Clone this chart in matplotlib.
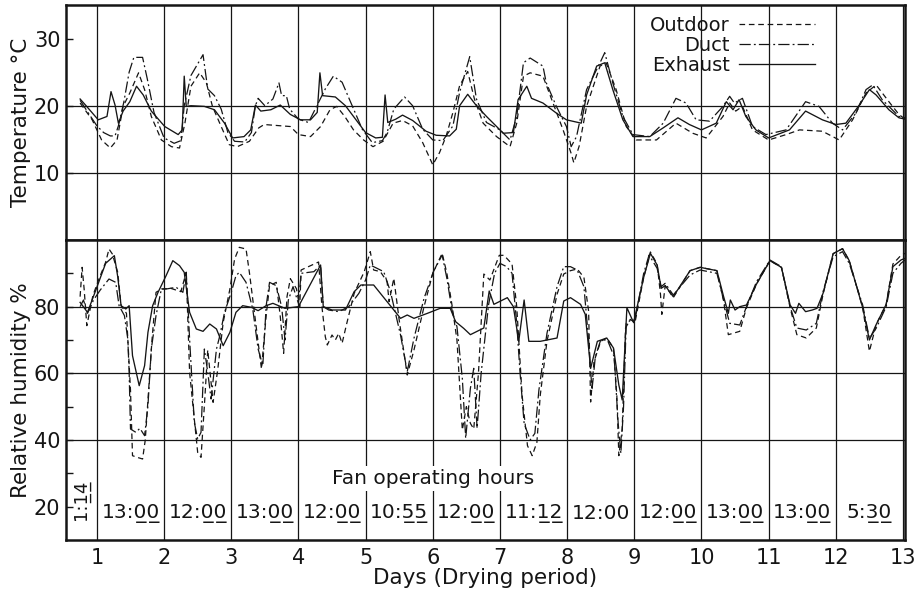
import matplotlib
matplotlib.use("Agg")
import matplotlib.pyplot as plt
from matplotlib.ticker import FixedLocator

# ---------------- data ----------------
# Temperature (°C)
t_out_days = [0.75, 0.93, 1.07, 1.2, 1.3, 1.39, 1.49, 1.62, 1.71, 1.81, 1.96, 2.11, 2.23, 2.31, 2.4, 2.53, 2.63, 2.72,
              2.85, 2.97, 3.09, 3.27, 3.41, 3.49, 3.88, 4.0, 4.18, 4.33, 4.47, 4.57, 4.69, 4.82, 4.97, 5.11, 5.26, 5.41,
              5.55, 5.7, 5.85, 6.0, 6.1, 6.2, 6.3, 6.4, 6.52, 6.62, 6.75, 6.95, 7.15, 7.25, 7.35, 7.45, 7.64, 7.79,
              7.94, 8.06, 8.1, 8.18, 8.29, 8.49, 8.58, 8.73, 8.88, 9.03, 9.33, 9.62, 9.87, 10.07, 10.32, 10.42, 10.51,
              10.61, 10.76, 11.0, 11.26, 11.46, 11.8, 12.05, 12.25, 12.45, 12.6, 12.79, 12.94, 13.03]
t_out = [20.4, 17.9, 14.9, 13.7, 14.9, 19.9, 21.9, 24.9, 22.4, 18.4, 14.9, 13.9, 13.7, 17.4, 22.9, 24.9, 23.4, 19.9,
         16.9, 14.2, 13.9, 14.7, 16.7, 17.2, 16.9, 15.7, 15.4, 16.9, 19.4, 19.9, 18.4, 16.4, 14.9, 13.9, 14.7, 17.4,
         17.8, 17.0, 14.5, 11.2, 13.0, 15.5, 19.0, 23.0, 25.1, 21.0, 17.4, 15.4, 13.9, 17.4, 24.4, 24.9, 24.4, 20.4,
         16.4, 12.9, 11.5, 14.0, 19.9, 25.9, 26.4, 22.4, 16.9, 14.9, 14.9, 17.4, 15.9, 15.2, 18.4, 20.4, 19.2,
         19.9, 16.4, 14.9, 15.7, 16.4, 16.2, 14.9, 17.9, 21.9, 23.1, 20.6, 18.7, 18.0]

t_duct_days = [0.75, 0.9, 1.0, 1.1, 1.2, 1.27, 1.32, 1.4, 1.48, 1.55, 1.68, 1.75, 1.85, 2.0, 2.15, 2.25, 2.3, 2.4, 2.58,
               2.65, 2.75, 2.85, 2.95, 3.05, 3.2, 3.3, 3.36, 3.4, 3.5, 3.62, 3.71, 3.75, 3.82, 3.87, 4.0, 4.15, 4.3,
               4.4, 4.52, 4.65, 4.8, 4.95, 5.1, 5.25, 5.32, 5.42, 5.58, 5.7, 5.85, 6.0, 6.15, 6.3, 6.4, 6.55, 6.65,
               6.8, 7.0, 7.15, 7.25, 7.35, 7.45, 7.64, 7.69, 7.84, 7.99, 8.06, 8.14, 8.29, 8.49, 8.56, 8.68, 8.83,
               8.98, 9.23, 9.43, 9.62, 9.77, 9.92, 10.12, 10.32, 10.42, 10.49, 10.61, 10.76, 10.96, 11.26, 11.55,
               11.75, 11.95, 12.1, 12.3, 12.45, 12.55, 12.69, 12.94, 13.03]
t_duct = [20.8, 18.5, 17.0, 16.0, 15.5, 15.5, 17.0, 20.5, 25.0, 27.2, 27.2, 24.0, 19.0, 15.2, 14.4, 14.8, 20.0, 24.5,
          27.6, 22.5, 21.5, 19.5, 16.0, 14.7, 14.6, 16.0, 20.0, 21.1, 20.0, 21.0, 23.4, 21.5, 21.5, 19.5, 18.0, 17.5,
          20.5, 22.5, 24.4, 23.5, 20.0, 16.5, 14.5, 14.8, 16.0, 19.5, 21.3, 20.0, 16.5, 14.9, 14.8, 17.0, 22.0, 27.3,
          21.0, 17.5, 16.4, 14.9, 18.4, 26.4, 27.1, 25.9, 23.4, 19.9, 16.9, 13.9, 15.4, 22.4, 26.4, 27.9, 23.4, 18.4,
          15.7, 15.4, 17.4, 21.1, 20.4, 17.9, 17.7, 19.9, 21.4, 20.4, 21.1, 16.9, 15.7, 16.4, 20.6,
          19.9, 17.4, 16.4, 18.9, 22.4, 23.1, 20.9, 18.4, 18.2]

t_exh_days = [0.75, 0.83, 1.02, 1.15, 1.21, 1.27, 1.32, 1.39, 1.49, 1.59, 1.69, 1.81, 2.01, 2.21, 2.27, 2.3, 2.33, 2.4,
              2.6, 2.75, 2.9, 3.02, 3.19, 3.29, 3.36, 3.44, 3.59, 3.73, 3.88, 4.03, 4.18, 4.28, 4.32, 4.36, 4.55, 4.7,
              4.85, 5.0, 5.15, 5.25, 5.29, 5.33, 5.45, 5.55, 5.7, 5.9, 6.05, 6.25, 6.35, 6.4, 6.52, 6.65, 6.8, 7.05,
              7.2, 7.27, 7.4, 7.47, 7.64, 7.84, 7.99, 8.21, 8.29, 8.44, 8.56, 8.68, 8.83, 8.98, 9.23, 9.43, 9.65,
              9.82, 10.0, 10.22, 10.37, 10.47, 10.56, 10.66, 10.81, 11.0, 11.31, 11.55, 11.8, 12.0, 12.15, 12.35,
              12.5, 12.6, 12.79, 12.94, 13.03]
t_exh = [21.0, 20.1, 17.9, 18.4, 22.1, 20.1, 17.4, 19.2, 20.6, 22.9, 21.6, 19.2, 16.9, 15.7, 16.4, 24.4, 19.9, 20.0,
         19.9, 19.4, 17.4, 15.2, 15.4, 16.4, 20.1, 19.2, 19.4, 20.1, 18.7, 17.9, 17.9, 19.0, 24.9, 21.5, 21.3, 20.0,
         18.0, 16.0, 15.2, 15.3, 21.6, 17.5, 18.0, 18.6, 17.8, 16.2, 15.6, 15.5, 16.5, 20.0, 21.7, 20.0, 18.4, 15.9,
         16.0, 20.9, 22.9, 21.1, 20.4, 18.9, 17.9, 17.4, 21.6, 25.9, 26.4, 22.4, 17.9, 15.4, 15.4, 16.7, 18.2,
         17.2, 16.4, 17.4, 20.6, 19.4, 20.9, 18.4, 16.4, 15.2, 16.4, 19.2, 17.9, 17.2, 17.4, 20.1,
         22.4, 21.6, 19.4, 18.2, 18.0]

# Relative humidity (%)
rh_out_days = [0.75, 0.78, 0.81, 0.85, 0.94, 1.03, 1.13, 1.18, 1.23, 1.31, 1.36, 1.44, 1.5, 1.53, 1.6, 1.68, 1.72, 1.76,
               1.82, 1.88, 1.96, 2.1, 2.25, 2.33, 2.38, 2.5, 2.55, 2.6, 2.65, 2.73, 2.8, 2.88, 2.98, 3.05, 3.12, 3.22,
               3.27, 3.32, 3.4, 3.45, 3.52, 3.57, 3.67, 3.73, 3.78, 3.83, 3.88, 3.97, 4.02, 4.04, 4.3, 4.35, 4.4,
               4.43, 4.5, 4.55, 4.6, 4.65, 4.72, 4.83, 4.98, 5.07, 5.12, 5.22, 5.32, 5.35, 5.42, 5.5, 5.62, 5.72,
               5.87, 6.0, 6.14, 6.21, 6.29, 6.36, 6.44, 6.5, 6.56, 6.61, 6.68, 6.76, 6.85, 6.99, 7.06, 7.18, 7.25,
               7.33, 7.41, 7.48, 7.55, 7.6, 7.7, 7.85, 7.95, 8.05, 8.15, 8.25, 8.32, 8.35, 8.4, 8.5, 8.59, 8.69,
               8.74, 8.77, 8.82, 8.87, 8.94, 9.01, 9.14, 9.24, 9.34, 9.39, 9.41, 9.46, 9.58, 9.83, 9.98, 10.23,
               10.33, 10.4, 10.57, 10.67, 10.82, 11.02, 11.19, 11.32, 11.42, 11.56, 11.71, 11.81, 11.96, 12.1,
               12.2, 12.4, 12.5, 12.6, 12.75, 12.85, 12.97, 13.03]
rh_out = [83, 91.8, 85.3, 74.3, 83.3, 88.3, 93.3, 97.3, 95.8, 90.3, 80.3, 78, 55, 35.3, 34.8, 34.3, 40, 52,
          70, 84.3, 85.3, 85.5, 84.5, 90.3, 60.3, 36.3, 34.8, 50.3, 67, 51.3, 61.3, 75.3, 85.3, 94.3, 97.8, 97.3,
          90.3, 82.3, 69.3, 61.3, 77.3, 86.3, 87.3, 77, 66, 83, 88.4, 85.4, 80, 91, 93.4, 80, 71,
          68.5, 71.5, 70, 72, 69, 75, 84, 90.5, 96.5, 91, 90.5, 87.5, 81.5, 88.5, 76, 59.5, 67,
          80, 90, 96, 90, 80, 70, 43, 50, 45, 43.3, 60, 89.8, 88, 95.4, 95.4, 92.8, 80,
          53.4, 38.3, 35.3, 39.3, 53.4, 69.6, 83.7, 89.8, 90.8, 91.3, 88.8, 78.7, 51.4, 63.5, 69.6, 70.6, 67.6,
          53.4, 35.3, 43.3, 73.6, 76.2, 75.2, 88.8, 96.4, 92.8, 83.7, 77.7, 86.3, 82.7, 90.8, 91.8, 90.8,
          81.7, 71.6, 72.6, 79.7, 86.8, 93.8, 91.8, 79.7, 71.6, 70.6, 73.6, 83.7, 95.9, 97.4,
          93.8, 79.7, 66.6, 74.6, 80.7, 92.8, 95.4, 96]

rh_duct_days = [0.75, 0.8, 0.86, 0.95, 1.05, 1.18, 1.28, 1.33, 1.41, 1.46, 1.48, 1.5, 1.58, 1.64, 1.71, 1.76, 1.81,
                1.88, 1.96, 2.03, 2.18, 2.28, 2.33, 2.38, 2.45, 2.5, 2.55, 2.6, 2.65, 2.7, 2.78, 2.83, 2.9, 3.0, 3.07,
                3.12, 3.22, 3.32, 3.4, 3.47, 3.52, 3.57, 3.67, 3.75, 3.8, 3.85, 3.92, 4.0, 4.04, 4.23, 4.33, 4.37,
                4.45, 4.6, 4.75, 4.9, 5.0, 5.07, 5.27, 5.37, 5.52, 5.62, 5.72, 5.87, 6.01, 6.14, 6.21, 6.29, 6.36,
                6.44, 6.49, 6.56, 6.61, 6.66, 6.72, 6.83, 6.92, 7.0, 7.1, 7.18, 7.25, 7.3, 7.36, 7.45, 7.52, 7.58,
                7.7, 7.85, 7.95, 8.05, 8.15, 8.25, 8.32, 8.37, 8.42, 8.5, 8.6, 8.7, 8.76, 8.8, 8.84, 8.88, 8.95,
                9.01, 9.14, 9.22, 9.34, 9.4, 9.46, 9.58, 9.83, 9.98, 10.23, 10.33, 10.42, 10.57, 10.67, 10.82,
                11.02, 11.19, 11.32, 11.42, 11.56, 11.71, 11.81, 11.96, 12.1, 12.2, 12.4, 12.5, 12.6, 12.75,
                12.85, 12.97, 13.03]
rh_duct = [80, 82, 78, 82, 85, 88.3, 87.3, 80.3, 77.3, 70.3, 60.3, 43.3, 42.3, 43.5, 41.3, 50.3, 67.3,
           77.3, 85.3, 85.3, 85.8, 84.3, 90.3, 70.3, 45.3, 40.3, 42.3, 67.3, 60.3, 52.3, 67.3, 71.3, 78.3, 84.3, 89.3,
           90.3, 87.3, 79.3, 67.3, 62.3, 80.3, 87.3, 86.3, 80, 70, 82, 86, 81, 90, 90.5, 92.5, 80,
           79, 78.5, 80, 84, 88, 92.5, 90.5, 84.5, 71.5, 60.5, 70.5, 82.5, 90.5, 95.5, 88.5, 78.5, 74,
           58.5, 40.5, 55.5, 61.5, 43.5, 60, 80.5, 90, 93, 92, 90, 75, 60, 45, 40, 42, 55,
           72, 86, 92, 92, 91, 86, 70, 55, 65, 70, 70, 65, 45, 36, 50, 75, 76,
           76, 90, 95.5, 91.5, 86, 87, 83.5, 89.5, 91, 90, 82, 75, 74.5, 80, 87.5,
           94, 92, 80, 73.6, 73, 75, 84.5, 95, 96.5, 93, 80.5, 70.5, 73.5, 80,
           90, 93, 94]

rh_exh_days = [0.75, 0.86, 0.99, 1.13, 1.26, 1.31, 1.36, 1.43, 1.48, 1.53, 1.63, 1.71, 1.76, 1.83, 1.91, 2.03, 2.13,
               2.23, 2.3, 2.38, 2.48, 2.58, 2.68, 2.78, 2.88, 2.98, 3.07, 3.17, 3.3, 3.4, 3.52, 3.62, 3.8, 4.0, 4.33,
               4.37, 4.5, 4.7, 4.83, 4.93, 5.12, 5.32, 5.52, 5.62, 5.72, 5.92, 6.11, 6.26, 6.34, 6.46, 6.56, 6.76,
               6.84, 6.91, 7.11, 7.2, 7.28, 7.36, 7.43, 7.6, 7.85, 7.95, 8.05, 8.2, 8.27, 8.35, 8.45, 8.59, 8.69,
               8.77, 8.82, 8.89, 8.99, 9.14, 9.24, 9.34, 9.4, 9.46, 9.58, 9.83, 9.98, 10.23, 10.33, 10.4, 10.43,
               10.5, 10.57, 10.67, 10.82, 11.02, 11.19, 11.32, 11.4, 11.45, 11.55, 11.65, 11.72, 11.81, 11.96,
               12.1, 12.2, 12.4, 12.5, 12.6, 12.75, 12.85, 12.97, 13.03]
rh_exh = [81.3, 78.3, 85.3, 93, 95.3, 89, 80.3, 79.3, 80.3, 65.3, 56.3, 62.3, 72.3, 80.3, 84.3, 89.3, 93.8,
          92.3, 90.3, 78.3, 73.3, 72.6, 74.8, 73.3, 68.3, 72.3, 78.3, 80.3, 79.8, 78.8, 80.3, 81, 79.5, 80, 92.5,
          80, 79, 79, 84.5, 86.5, 86.5, 81.5, 76.5, 77.5, 76.5, 78, 79.5, 79.5, 75.5, 73.5, 71.6, 73.6,
          84.7, 80.7, 82.7, 80, 69.6, 82, 69.6, 69.6, 70.6, 81.7, 82.7, 80.7, 77.7, 61.5, 69.6, 70.6, 67.6,
          56.5, 52, 79.7, 75.2, 88.8, 96, 92.5, 85.5, 86.3, 83, 90.8, 91.8, 90.8, 83, 78, 82,
          79, 80, 80.5, 86.8, 93.8, 91.8, 80.5, 78, 81, 78.5, 79, 79.5, 84, 95.9,
          97.4, 93.8, 79.7, 70, 74.6, 80.7, 92, 94, 94.5]

series_names = ["Outdoor", "Duct", "Exhaust"]
day_ticks = list(range(1, 14))
temp_ticks = [10, 20, 30]
rh_ticks = [20, 40, 60, 80]

fan_days = [1.5, 2.5, 3.5, 4.5, 5.5, 6.5, 7.5, 8.5, 9.5, 10.5, 11.5, 12.5]
fan_hours = ["13:00", "12:00", "13:00", "12:00", "10:55", "12:00", "11:12", "12:00", "12:00", "13:00", "13:00", "5:30"]
fan_underlined = [True, True, True, True, True, True, True, False, True, True, True, True]
first_day_hours = "1:14"

# ---------------- style ----------------
plt.rcParams['font.family'] = ['DejaVu Sans']
INK = '#151515'
styles = {
    "Outdoor": dict(color=INK, lw=0.9, dashes=(4.5, 3.0)),
    "Duct": dict(color=INK, lw=0.9, dashes=(9, 2.5, 1.5, 2.5)),
    "Exhaust": dict(color=INK, lw=0.95, linestyle='-'),
}

fig = plt.figure(figsize=(9.2, 5.93), dpi=100)
L, R = 66 / 920, 905 / 920
ax_t = fig.add_axes([L, 1 - 240 / 593, R - L, 235 / 593])
ax_h = fig.add_axes([L, 1 - 540 / 593, R - L, 300 / 593], sharex=ax_t)

def underline_minutes(s):
    h, m = s.split(":")
    return h + ":" + "".join(c + "\u0332" for c in m)

for ax in (ax_t, ax_h):
    ax.set_xlim(0.54, 13.03)
    ax.set_xticks(day_ticks)
    for sp in ax.spines.values():
        sp.set_linewidth(1.8)
        sp.set_color(INK)
    ax.tick_params(direction='in', length=5, width=1.0, labelsize=15, colors=INK, pad=4)
    ax.grid(axis='x', color=INK, lw=0.9)
    ax.set_axisbelow(False)

# temperature panel
ax_t.set_ylim(0, 35)
ax_t.set_yticks(temp_ticks)
for v in temp_ticks[:-1]:
    ax_t.axhline(v, color=INK, lw=0.9, zorder=1)
ax_t.tick_params(axis='x', labelbottom=False, length=0)
ax_t.plot(t_out_days, t_out, label="Outdoor", **styles["Outdoor"])
ax_t.plot(t_duct_days, t_duct, label="Duct", **styles["Duct"])
ax_t.plot(t_exh_days, t_exh, label="Exhaust", **styles["Exhaust"])
ax_t.set_ylabel("Temperature °C", fontsize=15.5, labelpad=2, color=INK)
leg = ax_t.legend(loc='upper right', bbox_to_anchor=(0.893, 0.955), frameon=False, fontsize=14,
                  markerfirst=False, handlelength=3.9, handletextpad=0.5, labelspacing=0.05,
                  borderpad=0, borderaxespad=0)
for txt in leg.get_texts():
    txt.set_color(INK)

# humidity panel
ax_h.set_ylim(10, 100)
ax_h.set_yticks(rh_ticks)
ax_h.yaxis.set_minor_locator(FixedLocator([30, 50, 70, 90]))
ax_h.tick_params(axis='y', which='minor', direction='in', length=5, width=1.0, colors=INK)
for v in rh_ticks[1:]:
    ax_h.axhline(v, color=INK, lw=0.9, zorder=1)
ax_h.plot(rh_out_days, rh_out, **styles["Outdoor"])
ax_h.plot(rh_duct_days, rh_duct, **styles["Duct"])
ax_h.plot(rh_exh_days, rh_exh, **styles["Exhaust"])
ax_h.set_ylabel("Relative humidity %", fontsize=15.5, labelpad=2, color=INK)
ax_h.set_xlabel("Days (Drying period)", fontsize=15.5, labelpad=0, color=INK)
ax_h.tick_params(axis='x', length=0, pad=6)

ax_h.text(6.0, 28.5, "Fan operating hours", ha='center', va='center', fontsize=14.5, color=INK,
          bbox=dict(facecolor='white', edgecolor='none', pad=2), zorder=5)
for d, s, u in zip(fan_days, fan_hours, fan_underlined):
    ax_h.text(d, 18.0, underline_minutes(s) if u else s, ha='center', va='center', fontsize=14.5,
              color=INK, zorder=5)
ax_h.text(0.77, 22.0, underline_minutes(first_day_hours), ha='center', va='center', rotation=90,
          fontsize=13, color=INK, zorder=5)

fig.savefig("out.png", dpi=100)
